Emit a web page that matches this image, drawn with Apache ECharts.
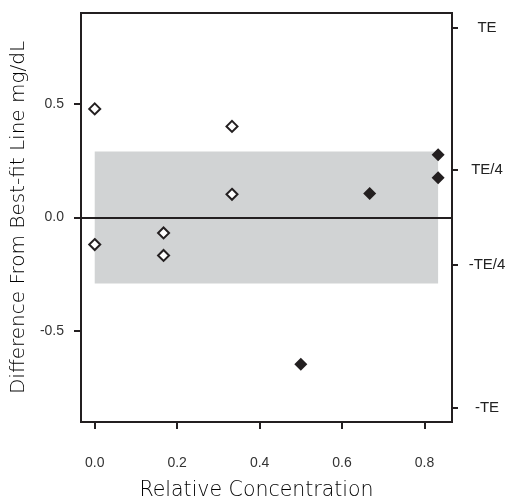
<!DOCTYPE html>
<html>
<head>
<meta charset="utf-8">
<script src="https://cdn.jsdelivr.net/npm/echarts@6/dist/echarts.min.js"></script>
<style>
  html, body { margin: 0; padding: 0; background: #fff; }
  #chart { width: 511px; height: 502px; }
</style>
</head>
<body>
<div id="chart"></div>
<script>
// Relative concentration levels and residuals from the best-fit line (mg/dL)
const openX = [0, 0, 0.167, 0.167, 0.333, 0.333];
const openY = [0.478, -0.119, -0.068, -0.167, 0.401, 0.102];
const filledX = [0.5, 0.667, 0.833, 0.833];
const filledY = [-0.646, 0.106, 0.175, 0.276];

// Total allowable error, in mg/dL
const TE = 0.836;
const teFactors = [-1, -0.25, 0.25, 1];
const teLabels = ['-TE', '-TE/4', 'TE/4', 'TE'];

// Shaded acceptance band
const bandX = [0, 0.833];
const bandY = [-0.29, 0.29];

const xTicks = [0, 0.2, 0.4, 0.6, 0.8];
const yTicks = [-0.5, 0, 0.5];
const xRange = [-0.0333, 0.8667];
const yRange = [-0.9, 0.9];

const ink = '#231f20';
const tickFont = '"Liberation Sans", Arial, sans-serif';
const titleFont = '"DejaVu Sans", sans-serif';

const teValues = teFactors.map(f => f * TE);

const chart = echarts.init(document.getElementById('chart'), null, { renderer: 'canvas' });
chart.setOption({
  animation: false,
  backgroundColor: '#fff',
  grid: {
    left: 81, right: 59, top: 13, bottom: 80,
    containLabel: false,
    outerBoundsMode: 'none',
    show: true, borderColor: ink, borderWidth: 2, backgroundColor: 'transparent'
  },
  xAxis: {
    type: 'value',
    min: xRange[0], max: xRange[1],
    name: 'Relative Concentration',
    nameLocation: 'middle',
    nameGap: 58,
    nameTextStyle: { fontFamily: titleFont, fontSize: 20.5, fontWeight: 300, color: '#000', padding: [0, 20, 0, 0] },
    axisLine: { show: true, onZero: false, lineStyle: { color: ink, width: 2 } },
    axisTick: { show: true, inside: false, length: 7, lineStyle: { color: ink, width: 2 }, customValues: xTicks },
    axisLabel: {
      customValues: xTicks, margin: 34,
      fontFamily: tickFont, fontSize: 14, color: '#333',
      formatter: v => v.toFixed(1)
    },
    splitLine: { show: false }
  },
  yAxis: [
    {
      type: 'value',
      min: yRange[0], max: yRange[1],
      position: 'left',
      name: 'Difference From Best-fit Line mg/dL',
      nameLocation: 'middle',
      nameGap: 52,
      nameTextStyle: { fontFamily: titleFont, fontSize: 20, fontWeight: 300, color: '#000' },
      axisLine: { show: true, onZero: false, lineStyle: { color: ink, width: 2 } },
      axisTick: { show: true, inside: false, length: 7, lineStyle: { color: ink, width: 2 }, customValues: yTicks },
      axisLabel: {
        customValues: yTicks, margin: 17,
        fontFamily: tickFont, fontSize: 14, color: '#333',
        formatter: v => v.toFixed(1)
      },
      splitLine: { show: false }
    },
    {
      type: 'value',
      min: yRange[0], max: yRange[1],
      position: 'right',
      axisLine: { show: true, onZero: false, lineStyle: { color: ink, width: 2 } },
      axisTick: { show: true, inside: false, length: 6, lineStyle: { color: ink, width: 2 }, customValues: teValues },
      axisLabel: {
        customValues: teValues, margin: 35, align: 'center',
        fontFamily: tickFont, fontSize: 15, color: '#222',
        formatter: v => {
          let best = 0;
          teValues.forEach((t, i) => { if (Math.abs(t - v) < Math.abs(teValues[best] - v)) best = i; });
          return teLabels[best];
        }
      },
      splitLine: { show: false }
    }
  ],
  series: [
    {
      type: 'scatter',
      z: 1,
      data: [],
      markArea: {
        silent: true,
        itemStyle: { color: '#d1d3d4' },
        data: [[{ coord: [bandX[0], bandY[1]] }, { coord: [bandX[1], bandY[0]] }]]
      }
    },
    {
      type: 'scatter',
      z: 2,
      data: [],
      markLine: {
        silent: true,
        symbol: ['none', 'none'],
        label: { show: false },
        lineStyle: { color: ink, width: 2, type: 'solid' },
        data: [{ yAxis: 0 }]
      }
    },
    {
      type: 'scatter',
      z: 3,
      symbol: 'diamond',
      symbolSize: 11,
      itemStyle: { color: '#fff', borderColor: ink, borderWidth: 2, opacity: 1 },
      data: openX.map((x, i) => [x, openY[i]])
    },
    {
      type: 'scatter',
      z: 3,
      symbol: 'diamond',
      symbolSize: 13,
      itemStyle: { color: ink, opacity: 1 },
      data: filledX.map((x, i) => [x, filledY[i]])
    }
  ]
});
</script>
</body>
</html>
